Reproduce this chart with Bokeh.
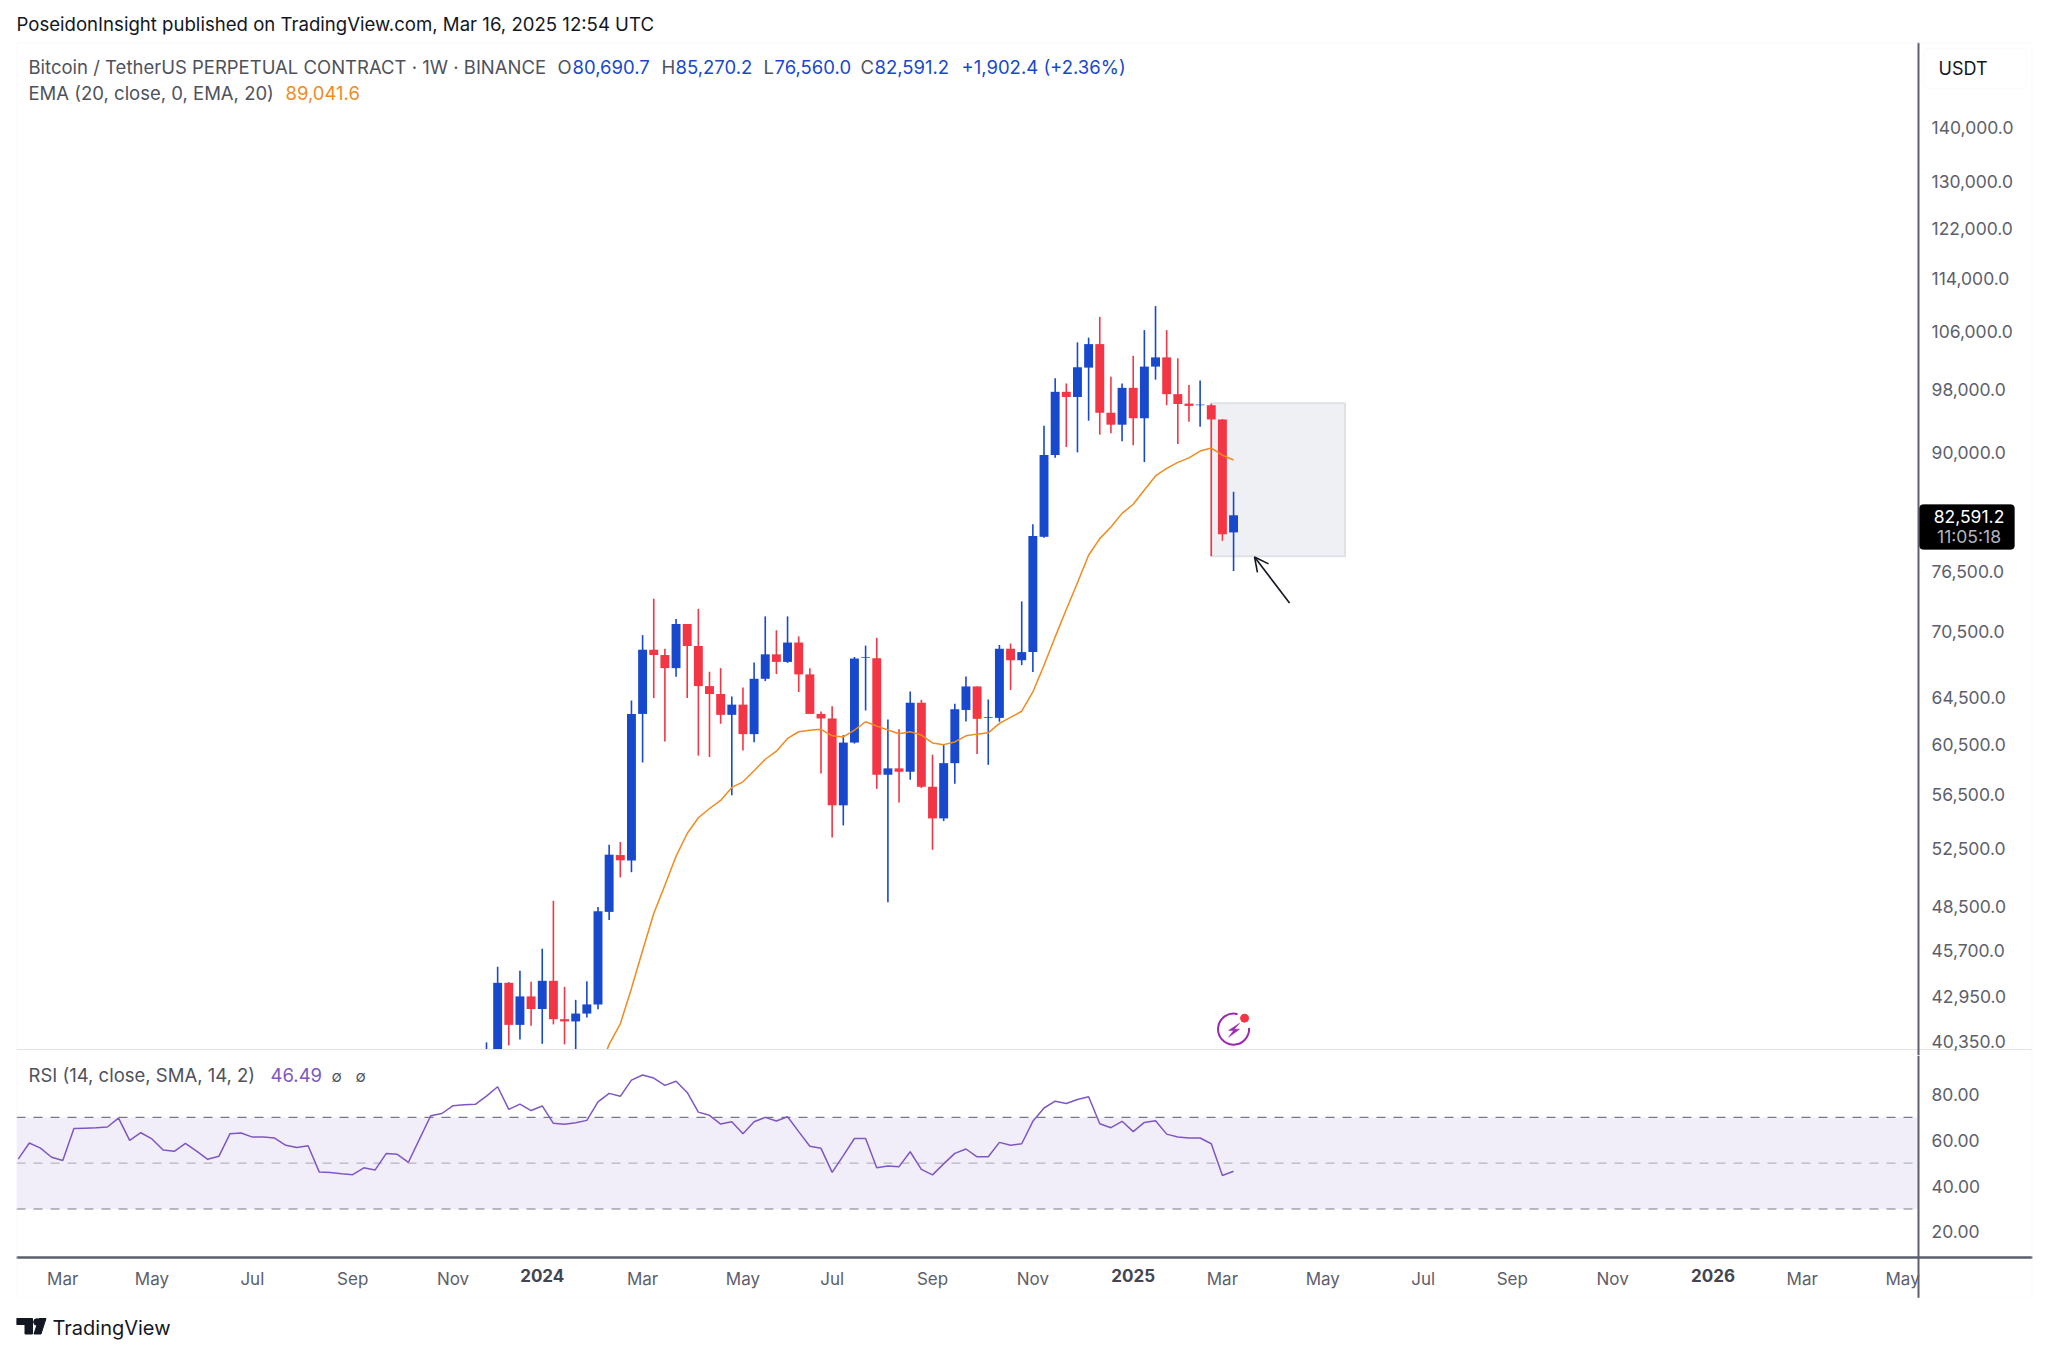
import math
import pandas as pd
from bokeh.embed import file_html
from bokeh.resources import INLINE
from bokeh.layouts import column
from bokeh.plotting import figure
from bokeh.models import (Range1d, FixedTicker, NumeralTickFormatter, LinearAxis, LogAxis, Label,
                          BoxAnnotation, Arrow, OpenHead)

# ---------- data ----------
candle_start = "2023-11-27"
opens = [37200,39950,43730,41300,42930,42200,43850,41620,41495,41940,42465,48160,52030,51640,63040,68790,68295,67090,71240,69140,65470,64770,62960,63840,61330,66125,68360,67660,69465,66520,63040,62650,55670,60630,68025,68000,58035,58540,58270,64005,57090,54690,58955,63380,65440,62700,62700,68880,67815,68570,80210,89650,97690,97010,100960,104240,94950,93420,98220,94240,101100,102375,97380,96140,95925,95925,94090,80690.7]
highs = [40330,44695,43780,44450,43790,45810,48890,43490,42730,43825,48480,52770,52960,64200,70170,73735,68880,71720,71240,72720,66760,67090,64560,65350,67610,71980,70630,71980,70050,67090,63250,63690,61250,68115,69175,69910,62570,61730,64990,64260,59640,60460,63920,66340,65440,64290,69235,69370,73460,81590,93300,99520,98810,104490,105160,108175,99730,98810,102590,106240,109775,106240,102240,98600,99190,96140,94140,85270.2]
lows = [36800,39700,40160,40480,41245,40250,41325,40220,38500,41720,42185,47630,50470,50830,59010,64410,60715,66305,64410,59560,59450,62200,56430,59980,60655,65920,66550,67570,64950,63040,58140,53290,54170,60545,63330,56930,48800,55890,57640,57000,52400,54490,57330,62400,59690,58820,62370,65130,67360,66730,80100,89300,90630,89970,93930,92160,92330,91350,90845,88790,99320,95925,91010,93800,93150,78120,79770,76560]
closes = [39950,43730,41300,42930,42200,43850,41620,41495,41940,42465,48205,52055,51660,63040,68790,68295,67090,71240,69140,65470,64770,62960,63840,61330,66125,68360,67660,69465,66520,63040,62650,55670,60630,67970,68090,58035,58540,58270,64005,57090,54690,58955,63440,65440,62620,62765,68880,67815,68570,80290,89650,97690,97010,101010,104240,94950,93420,98220,94240,101100,102375,97380,96090,95835,96010,94090,80480,82591.2]
ema_values = [38690,40220,41360,43390,45700,48060,49940,51940,53580,54735,55430,56040,57040,57480,58350,59270,59925,60970,61530,61650,61730,61190,61100,61670,62370,62005,61670,61355,61530,61250,60600,60460,60680,61190,61330,61440,62230,62740,63270,64950,67360,70000,72660,75350,78220,80010,81290,82805,83840,85470,87125,88040,88750,89300,90125,90500,89620,89041.6]
rsi_values = [51.8,58.8,56.6,52.6,51.2,65.1,65.3,65.5,65.8,69.7,60,63.3,60.6,55.8,55.2,58.7,55.3,51.7,53,62.9,63.2,61.4,61.4,61,57.8,56.9,57.6,46.2,45.9,45.4,45,48,47,54.2,53.9,50.4,60.6,70.7,71.7,75.1,75.5,75.7,79.3,83.4,73.5,75.8,73,75,67.4,67,67.7,68.7,76.8,80.5,79.2,86.3,88.5,87.2,84,85.8,80.9,72.3,70.9,67.1,68.1,62.9,68.1,70,68.4,70.3,63.8,57.4,56.5,46,53.3,60.8,60.8,48,48.8,48.5,55,47.3,44.9,49.7,54.3,56.2,52.8,52.8,59.1,57.8,58.5,68.3,74.1,77.1,76.1,77.8,79,67.2,65.5,68.3,63.8,67.8,68.5,62.7,61.4,61,61,58.5,44.6,46.49]
price_ticks = [140000,130000,122000,114000,106000,98000,90000,76500,70500,64500,60500,56500,52500,48500,45700,42950,40350]
rsi_ticks = [20,40,60,80]
month_ticks = {"2023-03-06":"Mar","2023-05-01":"May","2023-07-03":"Jul","2023-09-04":"Sep","2023-11-06":"Nov",
               "2024-03-04":"Mar","2024-05-06":"May","2024-07-01":"Jul","2024-09-02":"Sep","2024-11-04":"Nov",
               "2025-03-03":"Mar","2025-05-05":"May","2025-07-07":"Jul","2025-09-01":"Sep","2025-11-03":"Nov",
               "2026-03-02":"Mar","2026-05-04":"May"}
year_ticks = {"2024-01-01":"2024","2025-01-06":"2025","2026-01-05":"2026"}
box_top, box_bottom = 96200, 78120
box_end = "2025-05-19"

# ---------- styles ----------
BLUE, RED, ORANGE, PURPLE = "#1848cc", "#f23645", "#ef8b1f", "#7e57c2"
GREY, AXIS, FAINT, SEP = "#4f525c", "#5d606b", "#f0f3fa", "#e0e3eb"
FONT = "Inter"
TXT = "18.5px"
WEEK = 7*24*3600*1000
ms = lambda d: pd.Timestamp(d).timestamp()*1000

dates = [ms(d) for d in pd.date_range(candle_start, periods=len(opens), freq="7D")]
last = dates[-1]
x_start, x_end = last-109.15*WEEK, last+71.65*WEEK
axis_x = last+61.43*WEEK
x_range = Range1d(x_start, x_end)
BORDERS = dict(min_border_left=16, min_border_right=8, min_border_top=0, min_border_bottom=0)
P_BOTTOM = 1055   # the price pane runs a little past its visible edge, so that the lowest tick label is not cut

def canvas_box(fig, l, r, t, b, page_top, level="annotation", **kw):
    fig.add_layout(BoxAnnotation(left=l, right=r, top=t-page_top, bottom=b-page_top, left_units="canvas", right_units="canvas",
                                 top_units="canvas", bottom_units="canvas", level=level, **kw))

def top_text(fig, page_x, page_y, frame_bottom, text, color=GREY, size=TXT, font=FONT, align="left", style="normal"):
    fig.add_layout(Label(x=page_x-16, y=frame_bottom-page_y, x_units="screen", y_units="screen", text=text, text_color=color,
                         text_font=font, text_font_size=size, text_baseline="middle", text_align=align, text_font_style=style))

# ---------- header ----------
head = figure(width=2040, height=42, x_range=(16,2032), y_range=(42,0), x_axis_type=None, y_axis_type=None,
              toolbar_location=None, output_backend="svg", outline_line_color=None, **BORDERS)
head.add_layout(Label(x=16, y=23, text="PoseidonInsight published on TradingView.com, Mar 16, 2025 12:54 UTC",
                      text_font=FONT, text_font_size="18.6px", text_color="#131722", text_baseline="middle"))

# ---------- main pane ----------
p = figure(width=2040, height=P_BOTTOM-42, x_range=x_range, y_range=Range1d(39615,157100), y_axis_type="log", x_axis_type=None,
           y_axis_location=None, toolbar_location=None, output_backend="svg",
           outline_line_color=None, background_fill_color="white", **BORDERS)
p.grid.visible = False
ax = LogAxis(ticker=FixedTicker(ticks=price_ticks), formatter=NumeralTickFormatter(format="0,0.0"),
             fixed_location=axis_x, major_tick_line_color=None, minor_tick_line_color=None,
             axis_line_color=AXIS, axis_line_width=2, major_label_text_font=FONT,
             major_label_text_font_size="17.5px", major_label_text_color=AXIS, major_label_standoff=7)
p.add_layout(ax, "right")

p.quad(left=[dates[-3]], right=[ms(box_end)], top=[box_top], bottom=[box_bottom],
       fill_color="#eff0f4", line_color="#dfe1e6", line_width=2)

colors = [BLUE if c >= o else RED for o, c in zip(opens, closes)]
p.segment(dates, highs, dates, lows, color=colors, line_width=1.6)
p.vbar(x=dates, width=0.8*WEEK, top=[max(o, c) for o, c in zip(opens, closes)],
       bottom=[min(o, c) for o, c in zip(opens, closes)], fill_color=colors, line_color=colors, line_width=0)
p.line(dates[-len(ema_values):], ema_values, color=ORANGE, line_width=1.5)

# pane's visible bottom edge: white strip and separator, under the axis
canvas_box(p, 16, 2032, 1049, P_BOTTOM, 42, level="glyph", fill_color="white", fill_alpha=1, line_alpha=0)
canvas_box(p, 16, 2032, 1048.5, 1049.5, 42, level="glyph", fill_color=SEP, fill_alpha=1, line_alpha=0)
# outer faint border
canvas_box(p, 16.5, 2031.5, 42.5, P_BOTTOM+20, 42, fill_alpha=0, line_color=FAINT, line_width=1.5)

p.add_layout(Arrow(end=OpenHead(size=14, line_width=1.6, line_color="#131722"), line_color="#131722", line_width=1.6,
                   x_start=last+5.02*WEEK, y_start=73300, x_end=last+1.88*WEEK, y_end=78040))

# lightning icon anchored on the last bar
icon_y = 41060
off_x = lambda dx: last + dx/11.15*WEEK
off_y = lambda dy: icon_y*math.exp(-dy/735)
p.arc(x=[last], y=[icon_y], radius=15.5, radius_units="screen", start_angle=math.radians(75), end_angle=math.radians(5),
      line_color="#9c27b0", line_width=2)
p.scatter(x=[off_x(11)], y=[off_y(-11)], size=8, color=RED)
bolt = [(6,-6),(-5,1.3),(0,1.3),(-5,8),(6,0),(0.7,0)]
p.patch([off_x(a) for a,_ in bolt], [off_y(b) for _,b in bolt], color="#9c27b0", line_width=0.5)

for px, txt, col in [(28,"Bitcoin / TetherUS PERPETUAL CONTRACT · 1W · BINANCE",GREY),(557,"O",GREY),(572,"80,690.7",BLUE),
                     (661,"H",GREY),(675,"85,270.2",BLUE),(763,"L",GREY),(774,"76,560.0",BLUE),(860,"C",GREY),(874,"82,591.2",BLUE),
                     (961,"+1,902.4 (+2.36%)",BLUE)]:
    top_text(p, px, 66, P_BOTTOM, txt, col)
top_text(p, 28, 92.5, P_BOTTOM, "EMA (20, close, 0, EMA, 20)")
top_text(p, 285, 92.5, P_BOTTOM, "89,041.6", ORANGE)

# right column furniture (page coordinates)
canvas_box(p, 1923, 2026, 48, 88, 42, fill_alpha=0, line_color=FAINT, line_width=1.5, border_radius=6)
top_text(p, 1938, 68, P_BOTTOM, "USDT", "#131722", "18px")
canvas_box(p, 1919, 2014, 504, 549, 42, fill_color="black", fill_alpha=1, line_color="black", border_radius=4)
top_text(p, 1968.5, 516, P_BOTTOM, "82,591.2", "white", "17.5px", align="center")
top_text(p, 1968.5, 536, P_BOTTOM, "11:05:18", "#b2b5be", "17.5px", align="center")

# ---------- RSI pane ----------
r = figure(width=2040, height=1298-P_BOTTOM, x_range=x_range, y_range=Range1d(-9.08,97.03), x_axis_type=None,
           y_axis_location=None, toolbar_location=None, output_backend="svg",
           outline_line_color=None, background_fill_color="white", **BORDERS)
r.grid.visible = False
ay = LinearAxis(ticker=FixedTicker(ticks=rsi_ticks), formatter=NumeralTickFormatter(format="0.00"),
                fixed_location=axis_x, major_tick_line_color=None, minor_tick_line_color=None,
                axis_line_color=AXIS, axis_line_width=2, major_label_text_font=FONT,
                major_label_text_font_size="17.5px", major_label_text_color=AXIS, major_label_standoff=7)
r.add_layout(ay, "right")
canvas_box(r, 16.5, 2031.5, P_BOTTOM-20, 1297.5, P_BOTTOM, fill_alpha=0, line_color=FAINT, line_width=1.5)

r.add_layout(BoxAnnotation(bottom=30, top=70, right=axis_x, fill_color=PURPLE, fill_alpha=0.1, line_alpha=0, level="underlay"))
r.segment([x_start]*2, [70,30], [axis_x]*2, [70,30], line_color="#787b86", line_dash="9 8", line_width=1.2)
r.segment([x_start], [50], [axis_x], [50], line_color="#787b86", line_alpha=0.5, line_dash="9 8", line_width=1.2)
rsi_dates = [last-(len(rsi_values)-1-i)*WEEK for i in range(len(rsi_values))]
r.line(rsi_dates, rsi_values, color=PURPLE, line_width=1.5)

for ticks, style, col in [(month_ticks, "normal", AXIS), (year_ticks, "bold", "#434651")]:
    xa = LinearAxis(ticker=FixedTicker(ticks=[ms(k) for k in ticks]),
                    major_label_overrides={ms(k): v for k, v in ticks.items()},
                    fixed_location=8.8, major_tick_line_color=None, minor_tick_line_color=None,
                    axis_line_color=AXIS, axis_line_width=2, major_label_text_font=FONT,
                    major_label_text_font_size="17px", major_label_text_color=col,
                    major_label_text_font_style=style, major_label_standoff=5)
    r.add_layout(xa, "below")

top_text(r, 28, 1074, 1298, "RSI (14, close, SMA, 14, 2)")
top_text(r, 270, 1074, 1298, "46.49", PURPLE)
top_text(r, 331, 1076, 1298, "∅", GREY, "15px")
top_text(r, 355, 1076, 1298, "∅", GREY, "15px")

# ---------- footer ----------
foot = figure(width=2040, height=48, x_range=(16,2032), y_range=(48,0), x_axis_type=None, y_axis_type=None,
              toolbar_location=None, output_backend="svg", outline_line_color=None, **BORDERS)
foot.patch([16,32,32,24.5,24.5,16],[20,20,35.5,35.5,26,26], color="#131722")
foot.circle(x=[36.5], y=[23.5], radius=3.3, color="#131722")
foot.patch([38.5,45.5,40.5,33.5],[20,20,35.5,35.5], color="#131722")
foot.add_layout(Label(x=52, y=29, text="TradingView", text_font=FONT, text_font_size="20px", text_color="#131722", text_baseline="middle"))

open("out.html", "w").write(file_html(column(head, p, r, foot), INLINE))
